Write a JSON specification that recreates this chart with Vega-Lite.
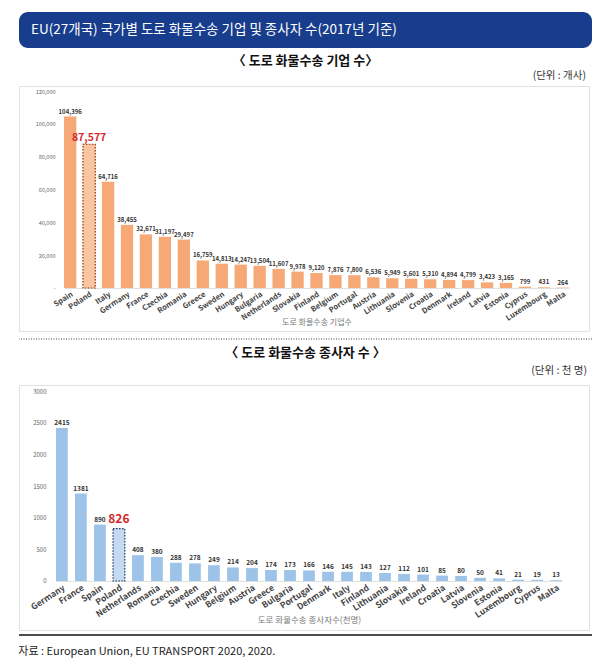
{
  "$schema": "https://vega.github.io/schema/vega-lite/v6.json",
  "background": "white",
  "padding": {"top": 12, "left": 18, "right": 10, "bottom": 2},
  "config": {
    "font": "Noto Sans CJK KR",
    "view": {"stroke": null}
  },
  "title": {
    "text": "자료 : European Union, EU TRANSPORT 2020, 2020.",
    "orient": "bottom",
    "anchor": "start",
    "fontSize": 11,
    "fontWeight": "normal",
    "color": "#222",
    "offset": 9
  },
  "align": "none",
  "bounds": "full",
  "spacing": 7,
  "vconcat": [
    {
      "width": 573,
      "height": 36,
      "view": {"fill": "#173D8C", "stroke": null, "cornerRadius": 9},
      "data": {"values": [{"label": "EU(27개국) 국가별 도로 화물수송 기업 및 종사자 수(2017년 기준)"}]},
      "mark": {"type": "text", "align": "left", "baseline": "middle", "color": "white", "fontSize": 13.5, "dx": 12},
      "encoding": {
        "text": {"field": "label"},
        "x": {"datum": 0, "scale": {"domain": [0, 1]}, "axis": null}
      }
    },
    {
      "title": {"text": "〈 도로 화물수송 기업 수〉", "fontSize": 13, "fontWeight": "bold", "color": "#111", "anchor": "middle", "offset": 2},
      "align": "none",
      "spacing": 6,
      "vconcat": [
        {
          "title": {"text": "(단위 : 개사)", "anchor": "end", "fontSize": 10.5, "fontWeight": "normal", "color": "#333", "dx": -3, "offset": 5},
          "width": 570,
          "height": 245,
          "view": {"stroke": "#e2e2e2", "strokeWidth": 1},
          "data": {
            "values": [
              {"country": "Spain", "value": 104396},
              {"country": "Poland", "value": 87577},
              {"country": "Italy", "value": 64716},
              {"country": "Germany", "value": 38455},
              {"country": "France", "value": 32671},
              {"country": "Czechia", "value": 31197},
              {"country": "Romania", "value": 29497},
              {"country": "Greece", "value": 16759},
              {"country": "Sweden", "value": 14813},
              {"country": "Hungary", "value": 14247},
              {"country": "Bulgaria", "value": 13504},
              {"country": "Netherlands", "value": 11607},
              {"country": "Slovakia", "value": 9978},
              {"country": "Finland", "value": 9120},
              {"country": "Belgium", "value": 7876},
              {"country": "Portugal", "value": 7800},
              {"country": "Austria", "value": 6536},
              {"country": "Lithuania", "value": 5949},
              {"country": "Slovenia", "value": 5601},
              {"country": "Croatia", "value": 5310},
              {"country": "Denmark", "value": 4894},
              {"country": "Ireland", "value": 4799},
              {"country": "Latvia", "value": 3423},
              {"country": "Estonia", "value": 3165},
              {"country": "Cyprus", "value": 799},
              {"country": "Luxembourg", "value": 431},
              {"country": "Malta", "value": 264}
            ]
          },
          "encoding": {
            "x": {
              "field": "country",
              "type": "nominal",
              "sort": null,
              "scale": {"range": [45, 550], "paddingInner": 0.35, "paddingOuter": 0},
              "axis": {
                "offset": -43,
                "title": "도로 화물수송 기업수",
                "titleFontSize": 8,
                "titleColor": "#777",
                "titleFontWeight": "normal",
                "titlePadding": -3,
                "labelAngle": -33,
                "labelAlign": "right",
                "labelBaseline": "top",
                "labelFontSize": 7.5,
                "labelFontWeight": "bold",
                "labelColor": "#444",
                "labelPadding": 2,
                "ticks": false,
                "domainColor": "#e0e0e0"
              }
            },
            "y": {
              "field": "value",
              "type": "quantitative",
              "scale": {"domain": [-26193, 123046], "nice": false},
              "axis": {
                "offset": -39,
                "title": null,
                "domain": false,
                "ticks": false,
                "grid": false,
                "values": [0, 20000, 40000, 60000, 80000, 100000, 120000],
                "labelExpr": "datum.value === 0 ? '-' : format(datum.value, ',')",
                "labelFontSize": 5.5,
                "labelColor": "#666",
                "labelPadding": 3
              }
            }
          },
          "layer": [
            {"mark": {"type": "bar", "fill": "#F6A976"}},
            {
              "transform": [{"filter": "datum.country === 'Poland'"}],
              "mark": {"type": "bar", "fill": "#F9C6A1", "stroke": "#8E3A14", "strokeDash": [1.5, 1.5], "strokeWidth": 1.2}
            },
            {
              "transform": [{"filter": "datum.country !== 'Poland'"}],
              "mark": {"type": "text", "baseline": "bottom", "dy": -2, "fontSize": 6, "fontWeight": "bold", "color": "#333"},
              "encoding": {"text": {"field": "value", "format": ","}}
            },
            {
              "transform": [{"filter": "datum.country === 'Poland'"}],
              "mark": {"type": "text", "baseline": "bottom", "dy": -1, "fontSize": 10.5, "fontWeight": "bold", "color": "#D42A2A"},
              "encoding": {"text": {"field": "value", "format": ","}}
            }
          ]
        },
        {
          "width": 573,
          "height": 1,
          "data": {"values": [{}]},
          "mark": {"type": "rule", "color": "#444", "strokeDash": [1, 1.5], "strokeWidth": 1.2},
          "encoding": {"y": {"datum": 1, "scale": {"domain": [0, 1]}, "axis": null}}
        }
      ]
    },
    {
      "title": {"text": "〈 도로 화물수송 종사자 수 〉", "fontSize": 13, "fontWeight": "bold", "color": "#111", "anchor": "middle", "offset": 5},
      "align": "none",
      "spacing": 3,
      "vconcat": [
        {
          "title": {"text": "(단위 : 천 명)", "anchor": "end", "fontSize": 10.5, "fontWeight": "normal", "color": "#333", "dx": -2, "offset": 9},
          "width": 570,
          "height": 245,
          "view": {"stroke": "#e2e2e2", "strokeWidth": 1},
          "data": {
            "values": [
              {"country": "Germany", "value": 2415},
              {"country": "France", "value": 1381},
              {"country": "Spain", "value": 890},
              {"country": "Poland", "value": 826},
              {"country": "Netherlands", "value": 408},
              {"country": "Romania", "value": 380},
              {"country": "Czechia", "value": 288},
              {"country": "Sweden", "value": 278},
              {"country": "Hungary", "value": 249},
              {"country": "Belgium", "value": 214},
              {"country": "Austria", "value": 204},
              {"country": "Greece", "value": 174},
              {"country": "Bulgaria", "value": 173},
              {"country": "Portugal", "value": 166},
              {"country": "Denmark", "value": 146},
              {"country": "Italy", "value": 145},
              {"country": "Finland", "value": 143},
              {"country": "Lithuania", "value": 127},
              {"country": "Slovakia", "value": 112},
              {"country": "Ireland", "value": 101},
              {"country": "Croatia", "value": 85},
              {"country": "Latvia", "value": 80},
              {"country": "Slovenia", "value": 50},
              {"country": "Estonia", "value": 41},
              {"country": "Luxembourg", "value": 21},
              {"country": "Cyprus", "value": 19},
              {"country": "Malta", "value": 13}
            ]
          },
          "encoding": {
            "x": {
              "field": "country",
              "type": "nominal",
              "sort": null,
              "scale": {"range": [37, 543], "paddingInner": 0.38, "paddingOuter": 0},
              "axis": {
                "offset": -49,
                "title": "도로 화물수송 종사자수(천명)",
                "titleFontSize": 8.5,
                "titleColor": "#777",
                "titleFontWeight": "normal",
                "titlePadding": -3,
                "labelAngle": -33,
                "labelAlign": "right",
                "labelBaseline": "top",
                "labelFontSize": 8.5,
                "labelFontWeight": "bold",
                "labelColor": "#444",
                "labelPadding": 2,
                "ticks": false,
                "domainColor": "#e0e0e0"
              }
            },
            "y": {
              "field": "value",
              "type": "quantitative",
              "scale": {"domain": [-774, 3095], "nice": false},
              "axis": {
                "offset": -30,
                "title": null,
                "domain": false,
                "ticks": false,
                "grid": false,
                "values": [0, 500, 1000, 1500, 2000, 2500, 3000],
                "format": "d",
                "labelFontSize": 6,
                "labelColor": "#666",
                "labelPadding": 3
              }
            }
          },
          "layer": [
            {"mark": {"type": "bar", "fill": "#9DC4E8"}},
            {
              "transform": [{"filter": "datum.country === 'Poland'"}],
              "mark": {"type": "bar", "fill": "#C3DAF0", "stroke": "#1F3864", "strokeDash": [1.5, 1.5], "strokeWidth": 1.2}
            },
            {
              "transform": [{"filter": "datum.country !== 'Poland'"}],
              "mark": {"type": "text", "baseline": "bottom", "dy": -2, "fontSize": 6.5, "fontWeight": "bold", "color": "#333"},
              "encoding": {"text": {"field": "value", "format": "d"}}
            },
            {
              "transform": [{"filter": "datum.country === 'Poland'"}],
              "mark": {"type": "text", "baseline": "bottom", "dy": -3, "fontSize": 12, "fontWeight": "bold", "color": "#D42A2A"},
              "encoding": {"text": {"field": "value", "format": "d"}}
            }
          ]
        },
        {
          "width": 573,
          "height": 2,
          "data": {"values": [{}]},
          "mark": {"type": "rule", "color": "#111", "strokeWidth": 1.3},
          "encoding": {"y": {"datum": 1, "scale": {"domain": [0, 1]}, "axis": null}}
        }
      ]
    }
  ]
}
